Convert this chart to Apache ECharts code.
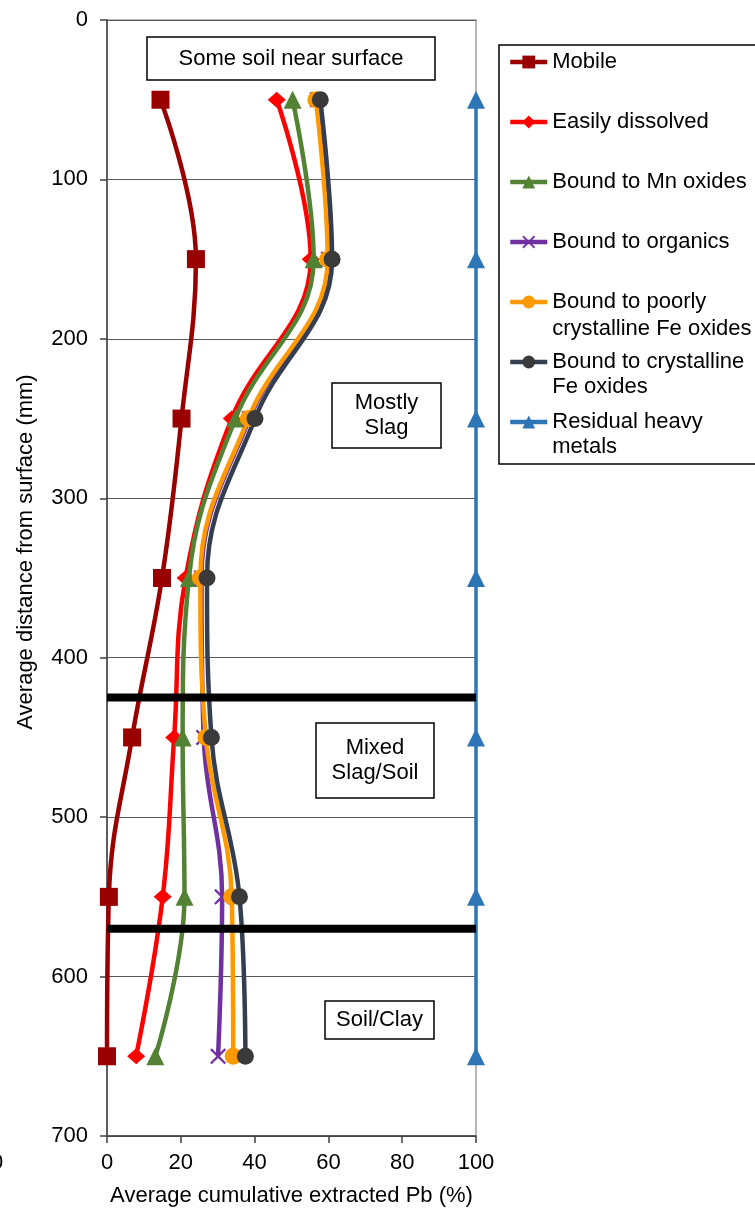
<!DOCTYPE html>
<html>
<head>
    <meta charset="UTF-8">
    <title>Pb fractions vs depth</title>
    <script src="https://cdn.jsdelivr.net/npm/echarts@6/dist/echarts.min.js"></script>
    <style>
        html, body { margin: 0; padding: 0; background: #fff; }
        #chart { width: 755px; height: 1212px; }
    </style>
</head>
<body>
<div id="chart"></div>
<script type="text/javascript">
    var depths = [50, 150, 250, 350, 450, 550, 650];
    var mobile = [14.5, 24.1, 20.2, 14.9, 6.8, 0.5, 0];
    var easilyDissolved = [46.0, 55.2, 33.8, 21.3, 18.2, 15.1, 7.9];
    var mnOxides = [50.3, 56.0, 34.8, 22.2, 20.5, 21.0, 13.1];
    var organics = [57.0, 60.0, 38.6, 25.6, 26.2, 31.2, 30.1];
    var poorlyFe = [56.6, 59.8, 38.3, 25.3, 26.8, 33.8, 34.2];
    var crystallineFe = [57.8, 61.0, 40.1, 27.1, 28.3, 35.9, 37.5];
    var residual = [100, 100, 100, 100, 100, 100, 100];
    var boundaries = [425, 570];

    var names = ['Mobile', 'Easily dissolved', 'Bound to Mn oxides', 'Bound to organics',
        'Bound to poorly\ncrystalline Fe oxides', 'Bound to crystalline\nFe oxides', 'Residual heavy\nmetals'];

    var FONT = '"Liberation Sans", Arial, sans-serif';
    var crossPath = 'path://M0,1L1,0L5,4L9,0L10,1L6,5L10,9L9,10L5,6L1,10L0,9L4,5Z';

    function pairs(vals) {
        var out = [];
        for (var i = 0; i < vals.length; i++) {
            out.push([vals[i], depths[i]]);
        }
        return out;
    }

    function curve(name, vals, color, symbol, size, markerColor) {
        return {
            name: name,
            type: 'line',
            data: pairs(vals),
            smooth: 0.4,
            clip: false,
            symbol: symbol,
            symbolSize: size,
            lineStyle: {color: color, width: 4.5},
            itemStyle: {color: markerColor || color},
            emphasis: {disabled: true}
        };
    }

    var series = [
        curve(names[0], mobile, '#990000', 'rect', 18),
        curve(names[1], easilyDissolved, '#ff0000', 'diamond', [18, 16]),
        curve(names[2], mnOxides, '#548235', 'triangle', 18),
        curve(names[3], organics, '#7030a0', crossPath, 16),
        curve(names[4], poorlyFe, '#ff9900', 'circle', 17),
        curve(names[5], crystallineFe, '#333f50', 'circle', 17, '#3a3a3a'),
        curve(names[6], residual, '#2e75b6', 'triangle', 18)
    ];
    series[6].smooth = false;
    series[6].lineStyle.width = 3.5;

    // thick black layer boundaries
    for (var b = 0; b < boundaries.length; b++) {
        series.push({
            type: 'line',
            data: [[0, boundaries[b]], [100, boundaries[b]]],
            symbol: 'none',
            silent: true,
            lineStyle: {color: '#000', width: 8},
            z: 5
        });
    }

    // one legend per entry; two-line names get a blank first line so the icon sits on line one
    var legendCenters = [62, 122, 182, 242, 302, 362, 422];
    var legendLineHeights = [25, 25, 25, 25, 27, 25, 25];
    var legends = [];
    for (var i = 0; i < names.length; i++) {
        var twoLine = names[i].indexOf('\n') >= 0;
        var lh = legendLineHeights[i];
        legends.push({
            data: [names[i]],
            left: 508,
            top: legendCenters[i] - (twoLine ? lh * 1.5 : lh / 2),
            padding: 0,
            itemWidth: 37,
            itemHeight: 16,
            selectedMode: false,
            lineStyle: {width: 4.5},
            formatter: twoLine ? function (n) { return '\u00a0\n' + n; } : '{name}',
            textStyle: {fontFamily: FONT, fontSize: 22, color: '#000', lineHeight: lh}
        });
    }

    function box(x, y, w, h, text) {
        return [{
            type: 'rect',
            shape: {x: x, y: y, width: w, height: h},
            style: {fill: '#fff', stroke: '#000', lineWidth: 1.5},
            z: 20
        }, {
            type: 'text',
            x: x + w / 2,
            y: y + h / 2,
            style: {
                text: text, fontFamily: FONT, fontSize: 22, fill: '#000',
                align: 'center', verticalAlign: 'middle', lineHeight: 25
            },
            z: 21
        }];
    }

    var graphics = [].concat(
        box(147, 37, 288, 43, 'Some soil near surface'),
        box(332, 383, 109, 65, 'Mostly\nSlag'),
        box(316, 723, 118, 75, 'Mixed\nSlag/Soil'),
        box(325, 1001, 109, 38, 'Soil/Clay'),
        [{
            type: 'rect',
            shape: {x: 499, y: 45, width: 270, height: 419},
            style: {fill: 'none', stroke: '#000', lineWidth: 1.5},
            z: 20
        }, {
            type: 'text',
            x: -9, y: 1152,
            style: {text: '0', fontFamily: FONT, fontSize: 22, fill: '#000'}
        }]
    );

    var chart = echarts.init(document.getElementById('chart'));
    chart.setOption({
        animation: false,
        backgroundColor: '#fff',
        textStyle: {fontFamily: FONT},
        grid: {
            left: 107, right: 279, top: 20, bottom: 74,
            show: true, borderColor: '#a0a0a0', borderWidth: 1.5, backgroundColor: 'transparent'
        },
        legend: legends,
        graphic: graphics,
        xAxis: {
            type: 'value',
            position: 'bottom',
            min: 0, max: 100, interval: 20,
            name: 'Average cumulative extracted Pb (%)',
            nameLocation: 'middle',
            nameGap: 49,
            nameTextStyle: {fontFamily: FONT, fontSize: 22, color: '#000'},
            axisLine: {show: true, onZero: false, lineStyle: {color: '#404040', width: 1.5}},
            axisTick: {show: true, length: 7, lineStyle: {color: '#404040', width: 1.5}},
            axisLabel: {fontFamily: FONT, fontSize: 22, color: '#000', margin: 16},
            splitLine: {show: false}
        },
        yAxis: {
            type: 'value',
            inverse: true,
            min: 0, max: 700, interval: 100,
            name: 'Average distance from surface (mm)',
            nameLocation: 'middle',
            nameGap: 70,
            nameTextStyle: {fontFamily: FONT, fontSize: 22, color: '#000', padding: [0, 0, 0, 52]},
            axisLine: {show: true, onZero: false, lineStyle: {color: '#404040', width: 1.5}},
            axisTick: {show: true, length: 7, lineStyle: {color: '#404040', width: 1.5}},
            axisLabel: {fontFamily: FONT, fontSize: 22, color: '#000', margin: 19},
            splitLine: {show: true, lineStyle: {color: '#5a5a5a', width: 1}}
        },
        series: series
    });
</script>
</body>
</html>
